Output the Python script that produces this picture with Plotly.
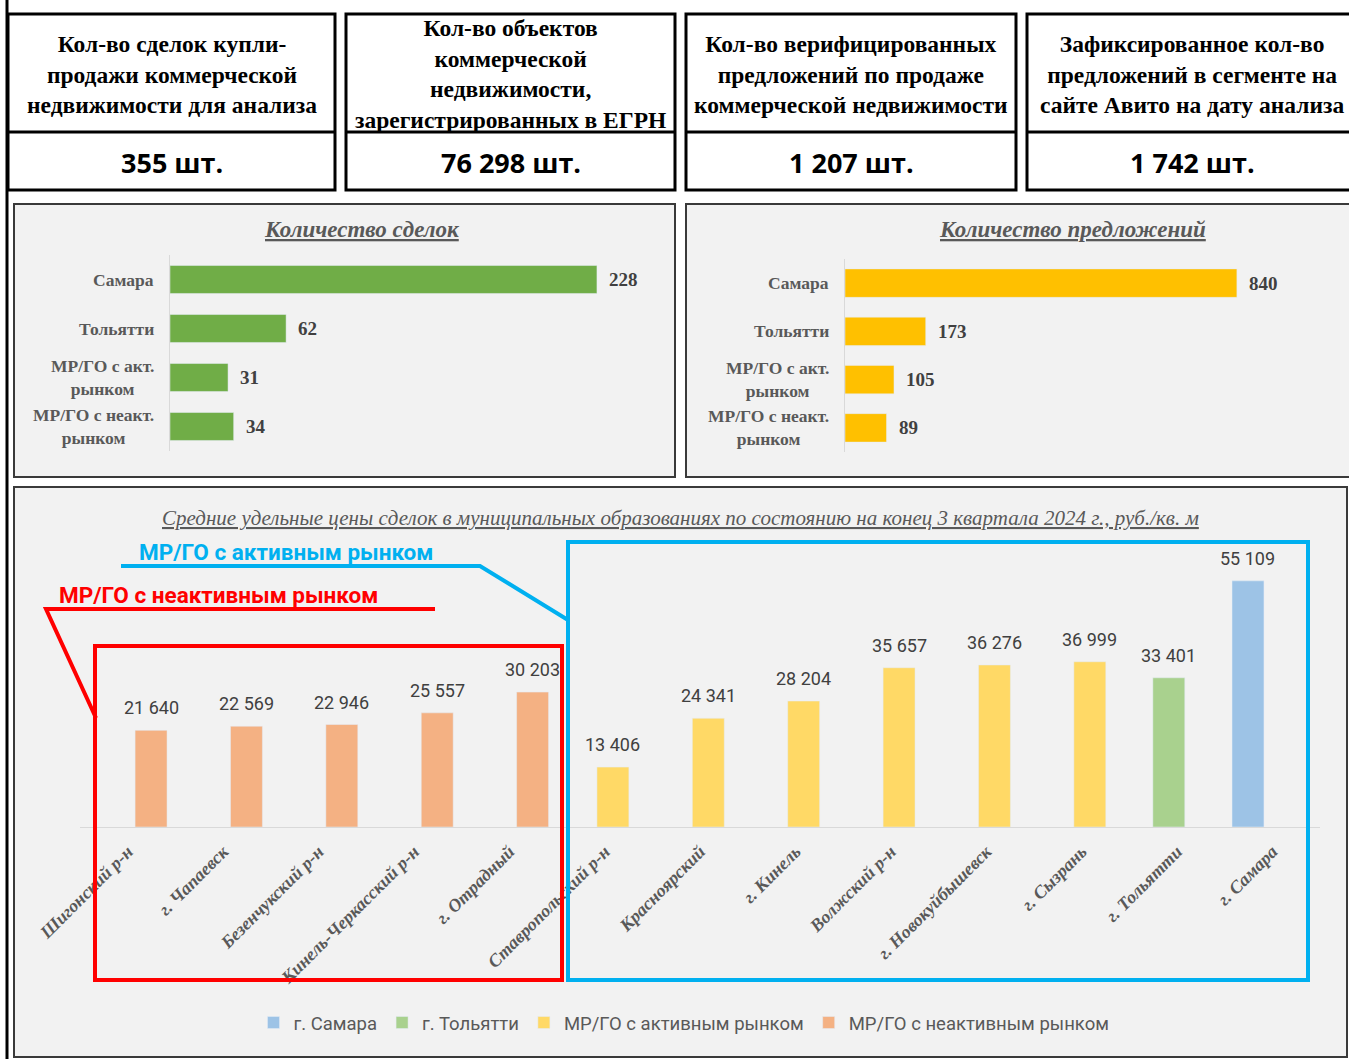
import plotly.graph_objects as go

W, H = 1349, 1059


def px(x):
    return x / W


def py(y):
    return 1 - y / H


SERIF = "Liberation Serif"
SANS = "Roboto"
GRAY = "#595959"
DARK = "#404040"

# ---------------- DATA ----------------
header_titles = [
    "Кол-во сделок купли-<br>продажи коммерческой<br>недвижимости для анализа",
    "Кол-во объектов<br>коммерческой<br>недвижимости,<br>зарегистрированных в ЕГРН",
    "Кол-во верифицированных<br>предложений по продаже<br>коммерческой недвижимости",
    "Зафиксированное кол-во<br>предложений в сегменте на<br>сайте Авито на дату анализа",
]
header_values = ["355 шт.", "76 298 шт.", "1 207 шт.", "1 742 шт."]

group_cats = ["Самара", "Тольятти", "МР/ГО с акт. рынком", "МР/ГО с неакт. рынком"]
group_labels = ["Самара", "Тольятти", "МР/ГО с акт.<br>рынком", "МР/ГО с неакт.<br>рынком"]
deals = [228, 62, 31, 34]
offers = [840, 173, 105, 89]

price_cats = [
    "Шигонский р-н", "г. Чапаевск", "Безенчукский р-н", "Кинель-Черкасский р-н",
    "г. Отрадный", "Ставропольский р-н", "Красноярский", "г. Кинель",
    "Волжский р-н", "г. Новокуйбышевск", "г. Сызрань", "г. Тольятти", "г. Самара",
]
price_samara = [None] * 12 + [55109]
price_tolyatti = [None] * 11 + [33401, None]
price_active = [None] * 5 + [13406, 24341, 28204, 35657, 36276, 36999] + [None, None]
price_inactive = [21640, 22569, 22946, 25557, 30203] + [None] * 8

series = [
    ("г. Самара", price_samara, "#9dc3e6", -0.255),
    ("г. Тольятти", price_tolyatti, "#a9d18e", -0.085),
    ("МР/ГО с активным рынком", price_active, "#ffd966", 0.087),
    ("МР/ГО с неактивным рынком", price_inactive, "#f4b183", 0.245),
]
BAR_W = 0.335

fig = go.Figure()
annotations = []
shapes = []

# ---------------- header boxes ----------------
boxes = [(8, 335), (346, 675), (686, 1016), (1027, 1357)]
for (x0, x1), title, val in zip(boxes, header_titles, header_values):
    shapes.append(dict(type="rect", xref="paper", yref="paper", x0=px(x0), x1=px(x1),
                       y0=py(14), y1=py(190), line=dict(color="black", width=3)))
    shapes.append(dict(type="line", xref="paper", yref="paper", x0=px(x0), x1=px(x1),
                       y0=py(132), y1=py(132), line=dict(color="black", width=3)))
    cx = (x0 + x1) / 2
    annotations.append(dict(xref="paper", yref="paper", x=px(cx), y=py(74), text="<b>" + title + "</b>",
                            showarrow=False, xanchor="center", yanchor="middle", align="center",
                            font=dict(family=SERIF, size=23.5, color="black")))
    annotations.append(dict(xref="paper", yref="paper", x=px(cx), y=py(162), text="<b>" + val + "</b>",
                            showarrow=False, xanchor="center", yanchor="middle",
                            font=dict(family="Open Sans", size=27, color="black")))

# page left border
shapes.append(dict(type="line", xref="paper", yref="paper", x0=px(7), x1=px(7), y0=0, y1=1,
                   line=dict(color="black", width=3)))

# panels
for (x0, y0, x1, y1) in [(14, 204, 675, 477), (686, 204, 1360, 477), (14, 487, 1347, 1057)]:
    shapes.append(dict(type="rect", xref="paper", yref="paper", x0=px(x0), x1=px(x1), y0=py(y0), y1=py(y1),
                       line=dict(color="#3a3a3a", width=2), fillcolor="#f2f2f2", layer="below"))

# ---------------- top bar charts ----------------
fig.add_trace(go.Bar(x=deals, y=group_cats, orientation="h", marker_color="#70ad47", width=0.57,
                     xaxis="x", yaxis="y", showlegend=False, hoverinfo="x+y"))
fig.add_trace(go.Bar(x=offers, y=group_cats, orientation="h", marker_color="#ffc000", width=0.59,
                     xaxis="x2", yaxis="y2", showlegend=False, hoverinfo="x+y"))

for ax, vals, lab_x in [("", deals, 156), ("2", offers, 831)]:
    for c, lab, v in zip(group_cats, group_labels, vals):
        annotations.append(dict(xref="paper", yref="y" + ax, x=px(lab_x), y=c, text="<b>" + lab + "</b>",
                                showarrow=False, xanchor="right", yanchor="middle", align="center",
                                font=dict(family=SERIF, size=17.5, color=GRAY)))
        annotations.append(dict(xref="x" + ax, yref="y" + ax, x=v, y=c, text="<b>" + str(v) + "</b>",
                                showarrow=False, xanchor="left", yanchor="middle", xshift=10,
                                font=dict(family=SERIF, size=19, color=DARK)))

annotations.append(dict(xref="paper", yref="paper", x=px(362), y=py(230),
                        xanchor="center", yanchor="middle",
                        text="<u><b><i>Количество сделок</i></b></u>", showarrow=False,
                        font=dict(family=SERIF, size=23, color=GRAY)))
annotations.append(dict(xref="paper", yref="paper", x=px(1072), y=py(230),
                        xanchor="center", yanchor="middle",
                        text="<u><b><i>Количество предложений</i></b></u>", showarrow=False,
                        font=dict(family=SERIF, size=23, color=GRAY)))

# ---------------- bottom chart ----------------
idx = list(range(len(price_cats)))
for name, vals, color, off in series:
    fig.add_trace(go.Bar(x=idx, y=vals, name=name, marker_color=color, width=BAR_W,
                         offset=off - BAR_W / 2, xaxis="x3", yaxis="y3",
                         hovertext=price_cats, hoverinfo="text+y"))
    for i, v in zip(idx, vals):
        if v is None:
            continue
        annotations.append(dict(xref="x3", yref="y3", x=i + off, y=v,
                                text=f"{v:,}".replace(",", " "), showarrow=False,
                                xanchor="center", yanchor="bottom", yshift=10,
                                font=dict(family=SANS, size=18, color=DARK)))

annotations.append(dict(xref="paper", yref="paper", x=px(680), y=py(518),
                        xanchor="center", yanchor="middle",
                        text="<u><i>Средние удельные цены сделок в муниципальных образованиях по состоянию на конец 3 квартала 2024 г., руб./кв. м</i></u>",
                        showarrow=False, font=dict(family=SERIF, size=21, color=GRAY)))

# overlays: red (inactive) and blue (active)
RED, BLUE = "#ff0000", "#00b0f0"
shapes.append(dict(type="rect", xref="paper", yref="paper", x0=px(95), x1=px(562), y0=py(646), y1=py(980),
                   line=dict(color=RED, width=4)))
shapes.append(dict(type="path", xref="paper", yref="paper",
                   path=f"M {px(435)} {py(609)} L {px(46)} {py(609)} L {px(96)} {py(718)}",
                   line=dict(color=RED, width=4)))
shapes.append(dict(type="rect", xref="paper", yref="paper", x0=px(568), x1=px(1308), y0=py(542), y1=py(980),
                   line=dict(color=BLUE, width=4)))
shapes.append(dict(type="path", xref="paper", yref="paper",
                   path=f"M {px(121)} {py(566)} L {px(480)} {py(566)} L {px(568)} {py(620)}",
                   line=dict(color=BLUE, width=4)))
annotations.append(dict(xref="paper", yref="paper", x=px(57), y=py(595), text="<b>МР/ГО с неактивным рынком</b>",
                        showarrow=False, xanchor="left", yanchor="middle",
                        font=dict(family=SANS, size=22.5, color=RED)))
annotations.append(dict(xref="paper", yref="paper", x=px(137), y=py(552), text="<b>МР/ГО с активным рынком</b>",
                        showarrow=False, xanchor="left", yanchor="middle",
                        font=dict(family=SANS, size=22.5, color=BLUE)))

fig.update_layout(
    width=W, height=H, margin=dict(l=0, r=0, t=0, b=0, autoexpand=False),
    paper_bgcolor="white", plot_bgcolor="rgba(0,0,0,0)",
    barmode="overlay",
    showlegend=True,
    legend=dict(orientation="h", x=px(684), xanchor="center", y=py(1023), yanchor="middle",
                font=dict(family=SANS, size=18.5, color=GRAY), bgcolor="rgba(0,0,0,0)",
                traceorder="normal", itemwidth=30),
    xaxis=dict(domain=[px(170), px(655)], range=[0, 259], visible=False, anchor="y"),
    yaxis=dict(domain=[py(451), py(255)], anchor="x", autorange="reversed", showticklabels=False,
               showline=True, linecolor="#d9d9d9", linewidth=1, ticks="", showgrid=False, zeroline=False),
    xaxis2=dict(domain=[px(845), px(1340)], range=[0, 1061], visible=False, anchor="y2"),
    yaxis2=dict(domain=[py(452), py(259)], anchor="x2", autorange="reversed", showticklabels=False,
                showline=True, linecolor="#d9d9d9", linewidth=1, ticks="", showgrid=False, zeroline=False),
    xaxis3=dict(domain=[px(80), px(1320)], range=[-0.5, 12.5], anchor="y3", automargin=False,
                tickmode="array", tickvals=idx, ticktext=["<b>" + c + "</b>" for c in price_cats],
                tickangle=-45,
                tickfont=dict(family=SERIF, size=18, color=GRAY, style="italic"),
                showline=True, linecolor="#d9d9d9", linewidth=1, ticks="", showgrid=False, zeroline=False,
                ticklabelstandoff=6),
    yaxis3=dict(domain=[py(827), py(559)], range=[0, 60000], anchor="x3", visible=False),
    shapes=shapes,
    annotations=annotations,
)

fig.write_html("out.html", config={"displayModeBar": False},
               post_script="document.body.style.margin='0';document.body.style.overflow='hidden';")
